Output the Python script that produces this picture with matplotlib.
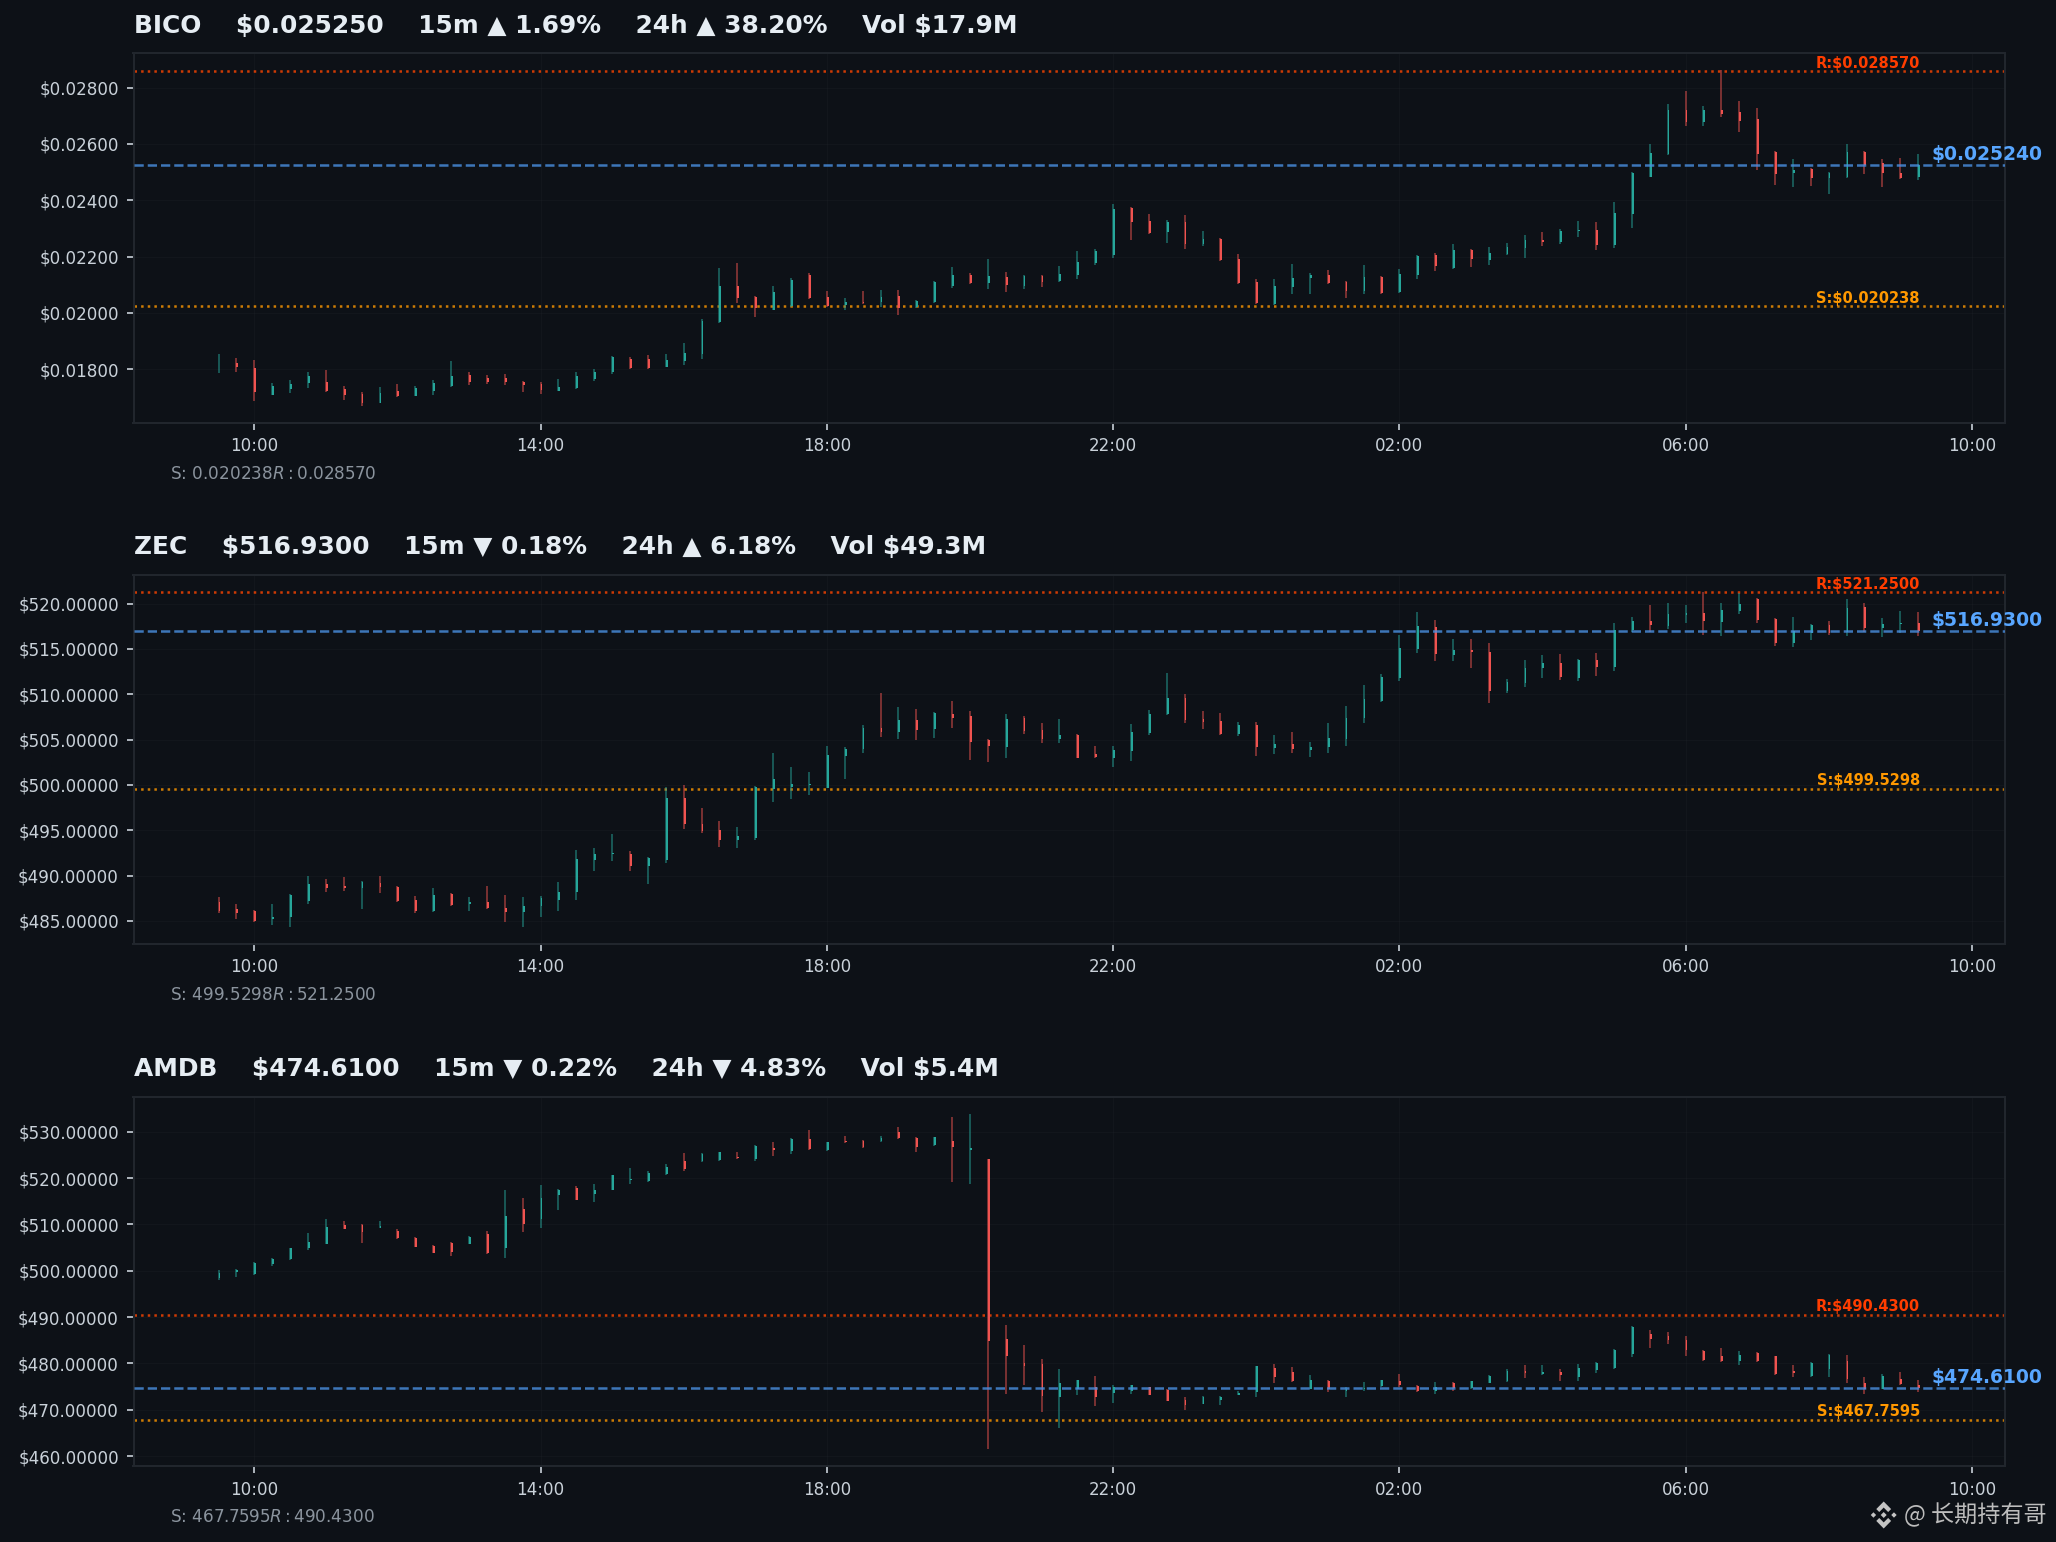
import matplotlib
matplotlib.use("Agg")
import matplotlib.pyplot as plt
import matplotlib.dates as mdates
from matplotlib.patches import Polygon
from matplotlib.ticker import FuncFormatter, MultipleLocator
import numpy as np
import pandas as pd

times = pd.date_range("2025-01-01 09:30", periods=96, freq="15min")

bico_open = [.018177,.018212,.018059,.017092,.017293,.017505,.017552,.017293,.017116,.016797,.017222,.017057,.017234,.017410,.017788,.017705,.017693,.017540,.017469,.017234,.017328,.017646,.017906,.018354,.018354,.018094,.018283,.018531,.019674,.020971,.020582,.020122,.020264,.021360,.020558,.020299,.020405,.020382,.020617,.020217,.020382,.020948,.021360,.021065,.021289,.020971,.021325,.021148,.021360,.021773,.022068,.023718,.023270,.022857,.023235,.022457,.022633,.021926,.021113,.020334,.020936,.021254,.021360,.021113,.020794,.021289,.020735,.021360,.022068,.021596,.022244,.021891,.022091,.022315,.022598,.022504,.022893,.022952,.022421,.023518,.024838,.025640,.027196,.026772,.027196,.027125,.026878,.025711,.024980,.025121,.024791,.024838,.025711,.025322,.024968,.024826]
bico_close = [.018200,.018083,.017198,.017410,.017469,.017764,.017234,.017080,.016797,.017175,.017057,.017352,.017528,.017752,.017552,.017552,.017552,.017434,.017269,.017363,.017752,.017906,.018448,.018059,.018059,.018318,.018566,.019710,.020971,.020523,.020181,.020759,.021160,.020535,.020240,.020405,.020358,.020582,.020181,.020417,.021113,.021360,.021065,.021325,.021006,.021325,.021113,.021396,.021820,.022185,.023695,.023235,.022834,.023235,.022457,.022633,.021891,.021065,.020346,.020971,.021254,.021360,.021065,.020794,.021289,.020723,.021396,.022032,.021655,.022244,.021926,.022138,.022351,.022598,.022527,.022916,.022952,.022421,.023553,.024956,.025675,.027196,.026772,.027196,.027043,.026807,.025640,.024933,.025074,.024803,.024956,.025711,.025251,.024968,.024791,.025251]
bico_high = [.018531,.018389,.018318,.017505,.017611,.017894,.017965,.017399,.017186,.017363,.017469,.017399,.017611,.018283,.017894,.017788,.017823,.017576,.017540,.017646,.017894,.018000,.018460,.018424,.018495,.018531,.018920,.019804,.021608,.021785,.020617,.020971,.021254,.021431,.020794,.020547,.020794,.020830,.020830,.020476,.021148,.021643,.021431,.021926,.021466,.021360,.021360,.021678,.022209,.022280,.023871,.023765,.023518,.023306,.023482,.022916,.022669,.022103,.021219,.021219,.021749,.021431,.021537,.021136,.021714,.021325,.021572,.022068,.022138,.022457,.022280,.022351,.022492,.022775,.022881,.022987,.023270,.023235,.023942,.025003,.025994,.027408,.027868,.027338,.028611,.027538,.027267,.025746,.025463,.025145,.025003,.025994,.025746,.025463,.025498,.025640]
bico_low = [.017859,.017906,.016880,.017092,.017151,.017328,.017198,.016915,.016703,.016797,.017021,.017045,.017080,.017363,.017434,.017469,.017434,.017186,.017116,.017222,.017293,.017576,.017823,.018000,.018000,.018071,.018141,.018354,.019639,.020346,.019851,.020099,.020228,.020511,.020217,.020099,.020334,.020228,.019945,.020181,.020370,.020900,.021042,.020865,.020759,.020865,.020936,.021113,.021219,.021714,.021961,.022598,.022810,.022492,.022280,.022386,.021855,.021042,.020334,.020299,.020688,.020688,.021042,.020547,.020688,.020688,.020723,.021219,.021502,.021572,.021643,.021714,.022068,.021961,.022386,.022457,.022704,.022244,.022315,.023023,.024826,.025605,.026630,.026630,.026949,.026405,.025074,.024543,.024473,.024508,.024225,.024791,.024933,.024473,.024756,.024720]

zec_open = [487.09,486.32,486.10,485.22,485.48,487.24,489.07,488.85,488.63,489.18,488.74,487.31,486.10,487.97,486.87,487.09,486.43,485.99,486.65,487.31,488.23,491.71,492.34,492.37,491.05,491.71,498.53,495.67,495.01,493.91,494.13,499.60,499.75,499.97,499.71,503.16,503.93,506.24,505.80,507.12,506.13,507.78,507.56,504.95,504.15,507.34,506.02,505.03,505.47,503.38,502.94,503.71,505.69,507.78,509.54,507.23,507.01,505.58,506.57,504.04,504.48,503.82,504.15,505.03,507.34,509.28,511.85,515.04,517.46,514.38,514.93,514.71,510.31,511.30,512.95,513.50,511.85,513.83,513.06,517.13,518.12,517.57,518.78,519.00,518.01,519.22,520.54,518.34,515.70,516.76,517.68,516.91,519.66,517.35,517.75,517.90]
zec_close = [486.10,485.88,485.04,485.44,487.86,489.07,488.59,488.63,489.29,488.74,487.20,486.10,487.86,486.76,487.09,486.39,485.99,486.65,487.53,488.19,491.82,492.37,492.48,491.05,491.93,498.53,495.67,494.90,493.91,494.35,499.75,500.63,500.08,500.15,503.27,503.93,506.24,505.80,507.12,506.02,507.89,507.41,504.70,504.26,507.23,505.91,505.03,505.47,502.97,503.05,503.82,505.80,507.78,509.54,507.12,506.90,505.58,506.57,504.15,504.48,503.93,504.15,505.14,507.34,509.43,511.96,515.15,517.57,514.42,514.93,514.71,510.31,511.41,512.95,513.46,511.96,513.83,513.06,517.13,518.12,517.68,518.89,518.97,518.12,519.33,519.99,518.23,515.70,517.02,517.68,516.76,519.55,517.35,517.79,517.90,516.93]
zec_high = [487.64,486.87,486.21,486.87,487.97,489.95,489.62,489.84,489.40,489.95,488.85,487.75,488.63,488.08,487.64,488.85,487.86,487.64,487.75,489.29,492.81,493.03,494.57,492.70,492.04,499.75,499.97,497.43,496.00,495.34,499.86,503.49,501.95,501.40,504.26,504.15,506.57,510.09,508.55,508.33,508.00,509.21,508.11,505.03,507.78,507.56,506.79,507.23,505.58,504.26,504.26,506.68,508.22,512.40,509.98,508.11,507.89,506.90,506.90,505.47,505.80,504.70,506.79,508.66,511.08,512.29,516.58,519.11,518.23,516.14,516.14,515.70,511.74,513.83,514.38,514.49,513.94,514.60,517.90,518.56,519.88,520.10,519.88,521.31,520.10,521.20,520.65,518.45,518.56,517.79,518.12,520.54,520.10,518.45,519.22,519.11]
zec_low = [485.88,485.22,484.89,484.56,484.34,486.87,488.19,488.30,486.32,488.08,487.09,485.88,485.99,486.65,486.10,486.32,484.89,484.34,485.44,486.10,487.31,490.50,491.60,490.50,489.07,491.38,495.12,494.68,493.14,493.03,493.91,498.09,498.42,498.87,499.64,500.63,503.49,505.25,505.03,504.92,505.14,506.24,502.72,502.50,502.94,505.58,504.59,504.59,502.94,502.94,501.95,502.61,505.47,507.67,506.79,506.13,505.47,505.36,503.16,503.38,503.49,503.05,503.49,504.26,506.79,509.10,511.52,514.60,513.72,513.72,512.95,508.99,510.09,510.75,511.85,511.63,511.52,512.07,512.62,516.84,516.84,517.24,517.90,516.58,516.47,518.89,517.90,515.37,515.26,516.03,516.58,516.47,516.91,516.36,516.80,516.47]

amdb_open = [498.44,499.80,499.30,501.44,502.59,504.81,505.88,509.82,509.82,509.32,508.53,507.10,505.38,506.03,505.88,508.03,504.88,513.26,511.11,516.26,517.77,516.48,517.48,519.48,519.27,520.77,523.78,523.63,523.92,524.64,524.14,526.57,525.92,528.50,526.00,528.07,528.07,528.07,530.01,528.72,527.21,528.07,526.00,524.06,485.34,480.19,479.97,472.67,474.39,474.82,473.53,474.03,474.82,474.24,472.03,471.24,472.03,473.17,473.81,479.11,478.25,474.60,476.25,473.96,474.39,475.10,476.25,475.10,473.96,475.82,474.67,475.82,476.18,478.47,477.82,478.11,477.18,478.68,479.04,482.12,486.41,485.98,485.12,482.76,481.69,480.62,482.33,481.55,478.32,477.32,478.90,480.62,475.68,474.53,476.75,475.46]
amdb_close = [499.51,500.16,501.66,502.52,504.88,506.24,509.39,509.03,508.39,509.75,507.03,505.17,503.88,504.02,507.31,503.74,511.75,510.03,515.62,517.34,515.33,517.34,520.56,519.84,521.20,522.49,522.06,525.28,525.57,524.28,527.00,526.14,528.50,526.21,527.71,527.79,526.64,528.72,528.57,526.64,528.79,526.78,526.43,484.91,481.69,479.54,472.88,475.89,476.39,472.67,475.03,475.25,473.24,471.88,470.95,472.67,472.67,473.67,479.40,477.11,476.25,476.53,474.39,474.53,474.67,476.39,475.25,473.96,474.82,474.67,476.18,477.39,478.47,477.90,478.25,477.54,479.11,480.19,482.98,487.84,485.34,485.12,482.98,480.83,480.62,481.90,480.47,477.68,478.04,480.19,481.90,476.75,474.39,477.25,475.53,474.61]
amdb_high = [500.16,500.37,501.87,502.73,505.02,508.10,511.11,510.68,510.03,510.68,508.96,507.24,505.53,506.17,507.46,508.53,517.34,515.62,518.41,517.55,518.20,518.62,520.70,522.27,521.42,523.13,525.50,525.50,525.71,525.71,527.21,527.86,528.72,530.43,527.86,529.15,528.29,529.15,531.08,528.93,528.93,533.23,533.87,524.21,488.35,484.05,481.04,478.90,476.53,477.39,475.25,475.46,475.03,474.39,472.67,472.88,472.88,473.96,479.54,479.97,479.33,477.61,476.53,475.03,476.11,476.53,477.82,475.25,476.11,476.11,476.32,477.61,478.90,479.76,479.76,478.90,479.97,480.40,483.19,488.13,487.27,486.84,485.98,482.98,483.41,482.76,482.55,481.69,479.76,480.40,482.12,481.90,477.18,477.82,478.25,476.53]
amdb_low = [498.01,498.65,499.08,501.02,502.30,504.45,505.74,508.96,505.95,509.18,506.81,505.10,503.81,503.16,505.74,503.59,502.73,508.32,509.18,513.04,515.19,514.76,517.34,518.62,519.05,520.56,521.42,523.56,523.78,524.21,523.78,524.85,525.28,526.14,525.92,527.64,526.57,527.86,528.50,525.71,527.00,519.05,518.62,461.50,473.31,475.25,469.45,466.01,473.10,470.74,471.38,473.31,473.10,471.81,469.88,471.17,470.95,473.10,472.67,475.89,476.11,474.39,473.74,472.67,473.96,475.03,474.82,473.74,473.31,473.96,474.60,475.68,476.11,476.96,477.61,476.32,476.32,478.04,478.90,481.47,483.41,484.27,481.69,480.62,480.40,479.76,480.40,477.61,477.18,477.18,477.18,475.68,473.31,474.39,475.46,473.74]

titles = [r"BICO    \$0.025250    15m ▲ 1.69%    24h ▲ 38.20%    Vol \$17.9M",
          r"ZEC    \$516.9300    15m ▼ 0.18%    24h ▲ 6.18%    Vol \$49.3M",
          r"AMDB    \$474.6100    15m ▼ 0.22%    24h ▼ 4.83%    Vol \$5.4M"]
last_prices = [0.025240, 516.93, 474.61]
supports = [0.020238, 499.5298, 467.7595]
resistances = [0.028570, 521.25, 490.43]
last_labels = ["$0.025240", "$516.9300", "$474.6100"]
support_labels = ["S:$0.020238", "S:$499.5298", "S:$467.7595"]
resist_labels = ["R:$0.028570", "R:$521.2500", "R:$490.4300"]
# single $ pair on purpose, the source text goes through mathtext
footers = ["S: $0.020238  R: $0.028570", "S: $499.5298  R: $521.2500", "S: $467.7595  R: $490.4300"]
tick_steps = [0.002, 5, 10]
tick_formats = ["${:.5f}", "${:.5f}", "${:.5f}"]

ohlc = [(bico_open, bico_high, bico_low, bico_close),
        (zec_open, zec_high, zec_low, zec_close),
        (amdb_open, amdb_high, amdb_low, amdb_close)]

W, H = 2056, 1542
BG = "#0d1117"
UP = "#26a69a"
DOWN = "#ef5350"

fig = plt.figure(figsize=(W / 150, H / 150), dpi=150, facecolor=BG)

# top / bottom of each panel in pixels
panel_px = [(53.5, 422.7), (575, 943.7), (1097, 1466)]
LEFT_PX, RIGHT_PX = 133.5, 2005


def drawPanel(ax, data, i):
    o, h, l, c = [np.array(v, dtype=float) for v in data]
    colors = [UP if c[k] >= o[k] else DOWN for k in range(len(o))]
    ax.set_facecolor(BG)
    ax.use_sticky_edges = False
    ax.vlines(times, l, h, colors=colors, linewidth=0.75, alpha=0.6, zorder=3)
    ax.bar(times, np.abs(c - o), bottom=np.minimum(o, c), width=0.00105, align="edge",
           color=colors, linewidth=0, zorder=4)

    ax.axhline(last_prices[i], color="#4a90e2", linestyle="--", linewidth=1.2, alpha=0.8, zorder=5)
    ax.axhline(resistances[i], color="#ff4500", linestyle=":", linewidth=1.2, alpha=0.8, zorder=2)
    ax.axhline(supports[i], color="#ff9800", linestyle=":", linewidth=1.2, alpha=0.8, zorder=2)

    ytrans = ax.get_yaxis_transform()
    ax.annotate(resist_labels[i], xy=(0.9545, resistances[i]), xycoords=ytrans, xytext=(0, 1.8),
                textcoords="offset points", ha="right", va="baseline", fontsize=7,
                fontweight="bold", color="#ff3d00")
    ax.annotate(support_labels[i], xy=(0.9545, supports[i]), xycoords=ytrans, xytext=(0, 1.8),
                textcoords="offset points", ha="right", va="baseline", fontsize=7,
                fontweight="bold", color="#ff9800")
    ax.annotate(last_labels[i], xy=(0.9605, last_prices[i]), xycoords=ytrans, xytext=(0, 2.5),
                textcoords="offset points", ha="left", va="baseline", fontsize=9,
                fontweight="bold", color="#58a6ff", annotation_clip=False, zorder=6)

    ax.set_title(titles[i], loc="left", fontsize=11.97, fontweight="bold", color="#e6edf3", pad=10)
    ax.text(0.0195, -0.115, footers[i], transform=ax.transAxes, fontsize=8.1, color="#8b949e",
            ha="left", va="top")

    ax.xaxis.set_major_locator(mdates.HourLocator(byhour=[2, 6, 10, 14, 18, 22]))
    ax.xaxis.set_major_formatter(mdates.DateFormatter("%H:%M"))
    ax.yaxis.set_major_locator(MultipleLocator(tick_steps[i]))
    ax.yaxis.set_major_formatter(FuncFormatter(lambda v, pos, f=tick_formats[i]: f.format(v)))
    ax.tick_params(axis="both", colors="#c9d1d9", labelsize=8.05, length=3.5, width=0.8)
    ax.grid(True, color="#30363d", linewidth=0.5, alpha=0.15)
    ax.set_axisbelow(True)
    for s in ax.spines.values():
        s.set_color("#21262d")
        s.set_linewidth(1.0)


for i in range(3):
    top, bottom = panel_px[i]
    ax = fig.add_axes([LEFT_PX / W, 1 - bottom / H, (RIGHT_PX - LEFT_PX) / W, (bottom - top) / H])
    drawPanel(ax, ohlc[i], i)


# watermark in the lower right corner
def logoPart(pts, cx=1883.7, cy=1515, r=13.5):
    xy = [((cx + px * r) / W, 1 - (cy - py * r) / H) for px, py in pts]
    fig.add_artist(Polygon(xy, closed=True, transform=fig.transFigure, facecolor="#c4c4c4", edgecolor="none"))


def diamond(dx, rad=0.2):
    return [(dx - rad, 0), (dx, rad), (dx + rad, 0), (dx, -rad)]


logoPart(diamond(0, 0.22))
logoPart(diamond(-0.76))
logoPart(diamond(0.76))
logoPart([(0, 0.55), (-0.33, 0.22), (-0.55, 0.44), (0, 1), (0.55, 0.44), (0.33, 0.22)])
logoPart([(0, -0.55), (-0.33, -0.22), (-0.55, -0.44), (0, -1), (0.55, -0.44), (0.33, -0.22)])
fig.text(1904 / W, 1 - 1515 / H, "@ 长期持有哥", fontsize=11.1, color="#bdbdbd", ha="left", va="center",
         family=["Noto Sans CJK SC", "DejaVu Sans"])

fig.savefig("out.png", dpi=150, facecolor=BG)
